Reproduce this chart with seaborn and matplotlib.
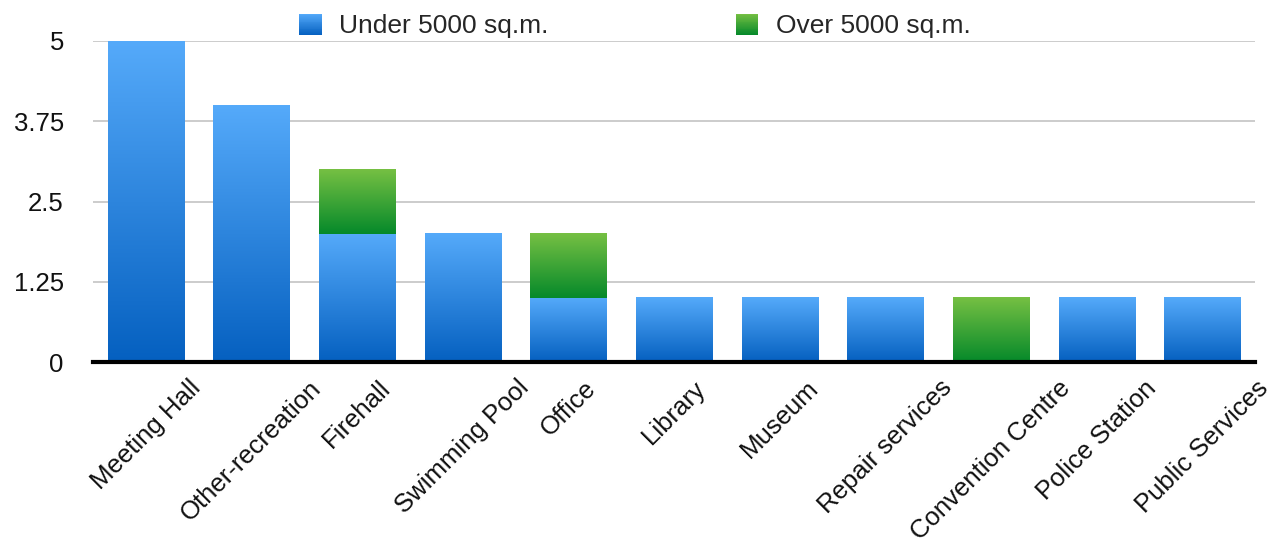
import numpy as np
import pandas as pd
import matplotlib
matplotlib.use("Agg")
import matplotlib.pyplot as plt
import seaborn as sns
from matplotlib.colors import LinearSegmentedColormap
from matplotlib.patches import Rectangle
from matplotlib.legend_handler import HandlerBase

categories = ["Meeting Hall", "Other-recreation", "Firehall", "Swimming Pool", "Office",
              "Library", "Museum", "Repair services", "Convention Centre",
              "Police Station", "Public Services"]
under = [5, 4, 2, 2, 1, 1, 1, 1, 0, 1, 1]
over = [0, 0, 1, 0, 1, 0, 0, 0, 1, 0, 0]
series_names = ["Under 5000 sq.m.", "Over 5000 sq.m."]
yticks = [0, 1.25, 2.5, 3.75, 5]
ytick_labels = ["0", "1.25", "2.5", "3.75", "5"]

blue_cmap = LinearSegmentedColormap.from_list("b", ["#0560C0", "#55AAFA"])
green_cmap = LinearSegmentedColormap.from_list("g", ["#05892A", "#76C043"])

sns.set_theme(style="white")
plt.rcParams["font.family"] = ["Liberation Sans", "DejaVu Sans"]
FS = 18.5

fig = plt.figure(figsize=(12.77, 5.42), dpi=100)
ax = fig.add_axes([93 / 1277, 1 - 362 / 542, (1255 - 93) / 1277, (362 - 41) / 542])

df = pd.DataFrame({"category": categories, "under": under, "over": over})
n = len(categories)
sns.barplot(data=df, x="category", y="under", color="#2C87E0", width=0.72,
            saturation=1, errorbar=None, ax=ax)
sns.barplot(data=df, x="category", y="over", color="#3DA53A", width=0.72,
            saturation=1, errorbar=None, ax=ax)
patches = list(ax.patches)
blue_patches = patches[:n]
green_patches = patches[n:2 * n]
for p, b in zip(green_patches, under):
    p.set_y(b)

grad = np.linspace(0, 1, 256).reshape(-1, 1)
for plist, cmap in [(blue_patches, blue_cmap), (green_patches, green_cmap)]:
    for p in plist:
        h = p.get_height()
        if h <= 0:
            p.set_visible(False)
            continue
        x0, w, y0 = p.get_x(), p.get_width(), p.get_y()
        ax.imshow(grad, extent=[x0, x0 + w, y0, y0 + h], origin="lower",
                  aspect="auto", cmap=cmap, zorder=2, interpolation="bilinear")
        p.set_facecolor("none")
        p.set_edgecolor("none")

ax.set_xlim(-0.5, n - 0.5)
ax.set_ylim(0, 5)
ax.set_yticks(yticks)
ax.set_yticklabels(ytick_labels)
ax.set_xlabel("")
ax.set_ylabel("")
ax.yaxis.grid(True, color="#C8C8C8", lw=1.3)
ax.xaxis.grid(False)
ax.set_axisbelow(True)
for s in ["left", "right", "top"]:
    ax.spines[s].set_visible(False)
ax.spines["bottom"].set_color("black")
ax.spines["bottom"].set_linewidth(3)
ax.spines["bottom"].set_zorder(5)
ax.tick_params(axis="y", length=0, pad=21, labelsize=FS, labelcolor="#111111")
ax.tick_params(axis="x", length=0, pad=10, labelsize=FS, labelcolor="#111111")
plt.setp(ax.get_xticklabels(), rotation=45)


class GradHandler(HandlerBase):
    def __init__(self, cmap):
        super().__init__()
        self.cmap = cmap

    def create_artists(self, legend, orig_handle, xdescent, ydescent, width,
                       height, fontsize, trans):
        arts = []
        k = 24
        for i in range(k):
            arts.append(Rectangle((-xdescent, -ydescent + height * i / k), width,
                                  height / k * 1.05,
                                  facecolor=self.cmap((i + 0.5) / k),
                                  edgecolor="none", transform=trans))
        return arts


h1 = Rectangle((0, 0), 1, 1)
h2 = Rectangle((0, 0), 1, 1)
fig.legend([h1, h2], series_names, handler_map={h1: GradHandler(blue_cmap),
                                               h2: GradHandler(green_cmap)},
           loc="center", bbox_to_anchor=(0.497, 1 - 26 / 542), ncol=2, frameon=False,
           fontsize=19, handlelength=0.85, handleheight=0.85, handletextpad=0.66,
           columnspacing=7.1, borderpad=0, borderaxespad=0)

fig.savefig("out.png", dpi=100)
